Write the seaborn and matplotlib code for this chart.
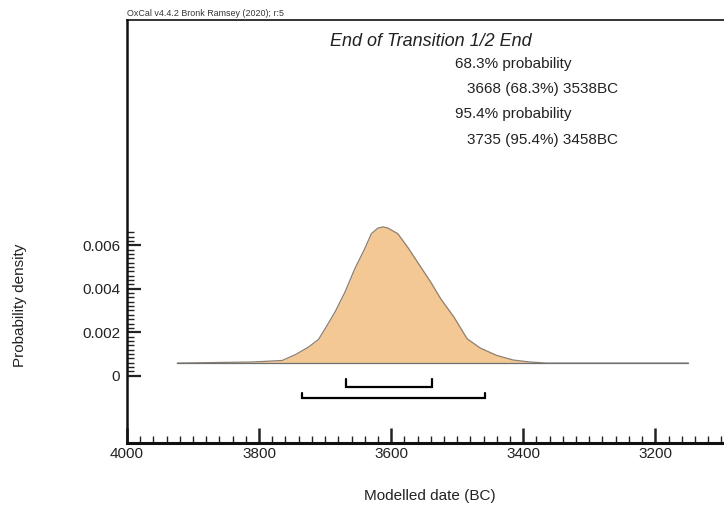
import numpy as np
import matplotlib
matplotlib.use("Agg")
import matplotlib.pyplot as plt
import seaborn as sns
import pandas as pd

sns.set_theme(style="white")
plt.rcParams["font.family"] = ["Liberation Sans", "DejaVu Sans"]

# Posterior density (years BC)
years = [3924, 3810, 3765, 3745, 3725, 3710, 3700, 3685, 3670, 3655, 3640, 3630,
         3620, 3612, 3605, 3590, 3575, 3560, 3540, 3525, 3505, 3485, 3465, 3440,
         3415, 3390, 3365, 3150]
density = [0, 0.00005, 0.00012, 0.00039, 0.00074, 0.00109, 0.00158, 0.00235,
           0.00326, 0.00434, 0.00526, 0.00595, 0.00621, 0.00626, 0.00621, 0.00595,
           0.00533, 0.00464, 0.00372, 0.00296, 0.00212, 0.00112, 0.00069, 0.00035,
           0.00014, 0.00005, 0, 0]

range_68 = (3668, 3538)
range_95 = (3735, 3458)

title = "End of Transition 1/2 End"
header = "OxCal v4.4.2 Bronk Ramsey (2020); r:5"
x_ticks = [4000, 3800, 3600, 3400, 3200]
y_ticks = [0, 0.002, 0.004, 0.006]
y_tick_labels = ["0", "0.002", "0.004", "0.006"]

df = pd.DataFrame({"year": years, "density": density})
base = 0.00058  # OxCal draws the curve slightly above zero
df["y"] = df["density"] + base

W, H = 724, 508
fig = plt.figure(figsize=(W / 100, H / 100), dpi=100)
ax = fig.add_axes([127 / W, 1 - 443 / H, (W - 127) / W, (443 - 20) / H])

ax.fill_between(df["year"], base, df["y"], color="#f4c894", lw=0)
sns.lineplot(data=df, x="year", y="y", ax=ax, color="#8c7e70", lw=0.9,
             sort=False, estimator=None)
ax.plot([years[0], years[-1]], [base, base], color="#707070", lw=0.9)

# range brackets
for (a, b), yl, yt in [(range_68, -0.000506, -0.00015), (range_95, -0.00104, -0.00081)]:
    ax.plot([a, a, b, b], [yt, yl, yl, yt], color="black", lw=1.6,
            solid_joinstyle="miter")

ax.set_xlim(4000, 3096)
ax.set_ylim(-0.003094, 0.016354)
ax.set_xticks(x_ticks)
ax.set_xticks(np.arange(3100, 4001, 20), minor=True)
ax.set_yticks(y_ticks)
ax.set_yticklabels(y_tick_labels)
ax.set_yticks(np.arange(0, 0.0067, 0.0002), minor=True)
ax.set_xlabel("")
ax.set_ylabel("")

ax.tick_params(axis="x", which="major", direction="in", length=11, width=1.8,
               pad=3, labelsize=11, colors="#222222", bottom=True)
ax.tick_params(axis="x", which="minor", direction="in", length=5, width=1,
               color="#222222", bottom=True)
ax.tick_params(axis="y", which="major", direction="in", length=10, width=1.6,
               pad=5, labelsize=11, colors="#222222", left=True)
ax.tick_params(axis="y", which="minor", direction="in", length=5, width=1,
               color="#222222", left=True)

ax.spines["right"].set_visible(False)
ax.spines["left"].set_linewidth(1.8)
ax.spines["bottom"].set_linewidth(2.2)
ax.spines["top"].set_linewidth(1.2)
for s in ["left", "bottom", "top"]:
    ax.spines[s].set_color("#111111")

def px(x, y):
    return x / W, 1 - y / H

fig.text(*px(431, 41), title, fontsize=13, style="italic", ha="center",
         va="center", color="#222222")
fig.text(*px(455, 64), "68.3% probability", fontsize=11, va="center", color="#222222")
fig.text(*px(467, 89), f"{range_68[0]} (68.3%) {range_68[1]}BC", fontsize=11,
         va="center", color="#222222")
fig.text(*px(455, 114), "95.4% probability", fontsize=11, va="center", color="#222222")
fig.text(*px(467, 140), f"{range_95[0]} (95.4%) {range_95[1]}BC", fontsize=11,
         va="center", color="#222222")
fig.text(*px(127, 16), header, fontsize=6.4, va="baseline", color="#333333")

fig.text(*px(20, 305), "Probability density", rotation=90, fontsize=11,
         ha="center", va="center", color="#222222")
fig.text(*px(430, 496), "Modelled date (BC)", fontsize=11, ha="center",
         va="center", color="#222222")

fig.savefig("out.png", dpi=100)
